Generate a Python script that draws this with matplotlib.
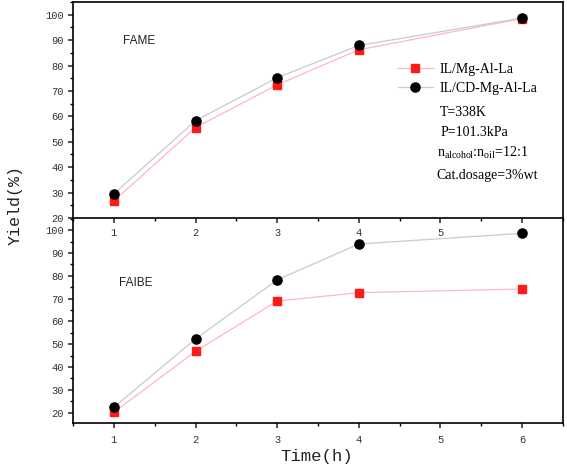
import matplotlib
matplotlib.use("Agg")
import matplotlib.pyplot as plt
from matplotlib.ticker import MultipleLocator
from matplotlib.lines import Line2D

# ---- data ----
time_h = [1, 2, 3, 4, 6]
fame_il = [26.7, 55.6, 72.4, 86.2, 98.5]
fame_cd = [29.5, 58.3, 75.2, 87.9, 98.7]
faibe_il = [20.2, 46.9, 68.9, 72.6, 74.2]
faibe_cd = [22.4, 52.3, 78.2, 93.9, 98.6]
series_labels = ["IL/Mg-Al-La", "IL/CD-Mg-Al-La"]
x_ticks = [1, 2, 3, 4, 5, 6]
y_ticks = [20, 30, 40, 50, 60, 70, 80, 90, 100]

plt.rcParams["mathtext.fontset"] = "custom"
plt.rcParams["mathtext.rm"] = "Liberation Serif"

W, H = 567, 470
fig = plt.figure(figsize=(W / 100, H / 100), dpi=100)

def fr(x0, y0, x1, y1):
    return [x0 / W, 1 - y1 / H, (x1 - x0) / W, (y1 - y0) / H]

ax1 = fig.add_axes(fr(73, 2, 563, 218))
ax2 = fig.add_axes(fr(73, 218, 563, 423))
ax1.set_zorder(1)
ax2.set_zorder(2)
ax2.patch.set_alpha(0)

mono = ["Liberation Mono", "DejaVu Sans Mono"]
red_line = "#ffb6c4"
gray_line = "#c4cccc"

for ax, il, cd in ((ax1, fame_il, fame_cd), (ax2, faibe_il, faibe_cd)):
    ax.plot(time_h, il, color=red_line, lw=0.9, marker="s", ms=5.6,
            mfc="#ff1a1a", mec="#ff1a1a", zorder=3)
    ax.plot(time_h, cd, color=gray_line, lw=0.9, marker="o", ms=6.6,
            mfc="black", mec="black", zorder=4)
    ax.set_xlim(0.5, 6.5)
    ax.set_xticks(x_ticks)
    ax.xaxis.set_minor_locator(MultipleLocator(0.5))
    ax.set_yticks(y_ticks)
    ax.yaxis.set_minor_locator(MultipleLocator(5))
    for s in ax.spines.values():
        s.set_linewidth(1.2)
    ax.tick_params(which="major", direction="out", length=3.5, width=1.1,
                   pad=3.0, colors="#222222")
    ax.tick_params(which="minor", direction="out", length=2.2, width=1.0)
    for lab in ax.get_xticklabels() + ax.get_yticklabels():
        lab.set_fontfamily(mono)
        lab.set_fontsize(7.5)
        lab.set_color("#333333")

ax1.set_ylim(20, 105)
ax2.set_ylim(15.5, 105.3)
ax2.spines["top"].set_visible(False)
ax1.tick_params(axis="x", pad=4)
ax2.tick_params(axis="x", pad=5)
for l in ax2.get_lines():
    l.set_clip_on(False)

label_font = ["Liberation Sans Narrow", "Liberation Sans", "DejaVu Sans"]
fig.text(123 / W, 1 - 41 / H, "FAME", fontsize=8.5,
         family=label_font, va="center", ha="left", color="#222222")
fig.text(119 / W, 1 - 283 / H, "FAIBE", fontsize=8.5,
         family=label_font, va="center", ha="left", color="#222222")

# legend
handles = [
    Line2D([], [], color=red_line, lw=0.9, marker="s", ms=5.6,
           mfc="#ff1a1a", mec="#ff1a1a"),
    Line2D([], [], color=gray_line, lw=0.9, marker="o", ms=6.6,
           mfc="black", mec="black"),
]
serif = ["Liberation Serif", "DejaVu Serif"]
leg = fig.legend(handles, series_labels, loc="upper left",
                 bbox_to_anchor=(398 / W, 1 - 63 / H), frameon=False,
                 prop=dict(family=serif, size=10), handlelength=2.5,
                 handletextpad=0.5, labelspacing=0.42, borderpad=0,
                 borderaxespad=0)
leg.set_zorder(10)

notes = [
    (440, 112, "T=338K"),
    (441, 132, "P=101.3kPa"),
    (437, 153, r"$\mathregular{n_{alcohol}}$:$\mathregular{n_{oil}}$=12:1"),
    (436, 175, "Cat.dosage=3%wt"),
]
for x, y, t in notes:
    fig.text(x / W, 1 - y / H, t, fontsize=10, family=serif,
             va="center", ha="left", color="black")

fig.text(15 / W, 1 - 205 / H, "Yield(%)", rotation=90, fontsize=12,
         family=mono, va="center", ha="center", color="#222222")
fig.text(317 / W, 1 - 457 / H, "Time(h)", fontsize=12.5,
         family=mono, va="center", ha="center", color="#222222")

fig.savefig("out.png", dpi=100)
